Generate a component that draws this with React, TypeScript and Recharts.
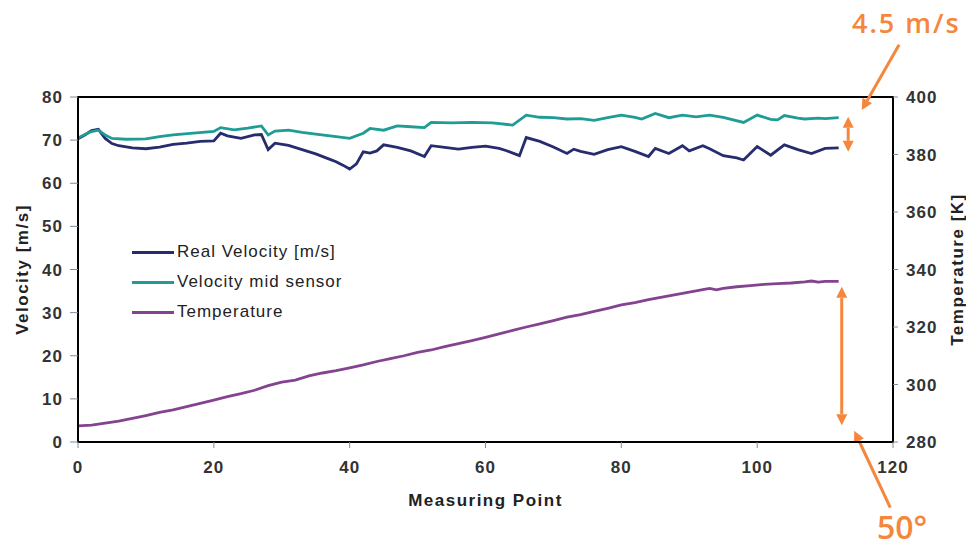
import React from 'react';
import { LineChart, Line, XAxis, YAxis, ReferenceArea, ReferenceLine, Legend } from 'recharts';

// ---------- data ----------
const realX = [0, 1, 2, 3, 4, 5, 6, 8, 10, 12, 14, 16, 18, 20, 21, 22, 24, 26, 27, 28, 29, 31, 33, 35, 37, 38, 39, 40, 41, 42, 43, 44, 45, 47, 49, 51, 52, 54, 56, 58, 60, 62, 63, 65, 66, 68, 70, 72, 73, 74, 76, 78, 80, 82, 84, 85, 87, 89, 90, 92, 93, 95, 97, 98, 100, 102, 104, 106, 108, 110, 112];
const realV = [70.3, 71.2, 72.2, 72.5, 70.4, 69.2, 68.7, 68.2, 68.0, 68.4, 69.0, 69.3, 69.7, 69.8, 71.6, 71.0, 70.4, 71.2, 71.3, 67.8, 69.3, 68.8, 67.8, 66.8, 65.6, 65.0, 64.2, 63.3, 64.5, 67.3, 67.0, 67.5, 68.9, 68.3, 67.5, 66.2, 68.7, 68.3, 67.9, 68.3, 68.6, 68.1, 67.6, 66.4, 70.6, 69.7, 68.4, 66.9, 67.9, 67.4, 66.7, 67.8, 68.5, 67.4, 66.2, 68.1, 66.9, 68.7, 67.5, 68.7, 68.0, 66.4, 65.9, 65.4, 68.5, 66.5, 68.9, 67.8, 66.9, 68.1, 68.2];

const midX = [0, 1, 2, 3, 4, 5, 7, 10, 12, 14, 17, 20, 21, 23, 25, 27, 28, 29, 31, 33, 35, 38, 40, 42, 43, 45, 47, 49, 51, 52, 55, 58, 61, 64, 66, 68, 70, 72, 74, 76, 78, 80, 82, 83, 85, 87, 89, 91, 93, 95, 98, 100, 102, 103, 104, 106, 107, 109, 110, 112];
const midV = [70.5, 71.3, 72.0, 72.3, 71.2, 70.4, 70.2, 70.3, 70.8, 71.2, 71.6, 72.0, 72.9, 72.4, 72.8, 73.3, 71.2, 72.1, 72.3, 71.8, 71.4, 70.8, 70.4, 71.6, 72.7, 72.3, 73.3, 73.1, 72.9, 74.1, 74.0, 74.1, 74.0, 73.5, 75.8, 75.3, 75.2, 74.9, 75.0, 74.6, 75.2, 75.8, 75.3, 74.9, 76.2, 75.2, 75.8, 75.4, 75.8, 75.3, 74.1, 75.8, 74.8, 74.7, 75.7, 75.1, 74.9, 75.1, 75.0, 75.2];

const tempX = [0, 2, 4, 6, 8, 10, 12, 14, 16, 18, 20, 22, 24, 26, 28, 30, 32, 34, 36, 38, 40, 42, 44, 46, 48, 50, 52, 54, 56, 58, 60, 62, 64, 66, 68, 70, 72, 74, 76, 78, 80, 82, 84, 86, 88, 90, 92, 93, 94, 95, 97, 99, 101, 103, 105, 107, 108, 109, 110, 112];
const tempK = [285.6, 285.9, 286.6, 287.3, 288.2, 289.2, 290.3, 291.2, 292.3, 293.4, 294.6, 295.8, 296.8, 298.0, 299.6, 300.8, 301.5, 303.0, 304.0, 304.8, 305.8, 306.8, 308.0, 309.0, 310.0, 311.2, 312.0, 313.2, 314.2, 315.3, 316.4, 317.6, 318.8, 320.0, 321.1, 322.2, 323.4, 324.3, 325.4, 326.5, 327.7, 328.5, 329.5, 330.4, 331.3, 332.1, 333.0, 333.4, 332.9, 333.4, 334.0, 334.4, 334.8, 335.1, 335.3, 335.7, 336.0, 335.6, 335.9, 335.9];

const xTicks = [0, 20, 40, 60, 80, 100, 120];
const velTicks = [0, 10, 20, 30, 40, 50, 60, 70, 80];
const tempTicks = [280, 300, 320, 340, 360, 380, 400];

const seriesNames = ['Real Velocity [m/s]', 'Velocity mid sensor', 'Temperature'];
const seriesColors = ['#262C6E', '#1E9C95', '#84438F'];

// annotation segments (in x / velocity units)
const gapArrow = [{ x: 113.4, y: 75.4 }, { x: 113.4, y: 67.3 }];
const tempArrow = [{ x: 112.45, y: 36.0 }, { x: 112.45, y: 3.9 }];
const topPointer = [{ x: 120.9, y: 92.1 }, { x: 115.4, y: 77.0 }];
const bottomPointer = [{ x: 119.6, y: -15.2 }, { x: 114.3, y: 2.6 }];

const realData = realX.map((x, i) => ({ x, v: realV[i] }));
const midData = midX.map((x, i) => ({ x, v: midV[i] }));
const tempData = tempX.map((x, i) => ({ x, t: tempK[i] }));

const ORANGE = '#F4873B';
const FONT = '"Liberation Sans", Arial, sans-serif';

function head(tx: number, ty: number, fx: number, fy: number) {
  const dx = tx - fx;
  const dy = ty - fy;
  const len = Math.sqrt(dx * dx + dy * dy) || 1;
  const ux = dx / len;
  const uy = dy / len;
  const L = 11;
  const W = 5.5;
  const bx = tx - ux * L;
  const by = ty - uy * L;
  const pts = `${tx},${ty} ${bx - uy * W},${by + ux * W} ${bx + uy * W},${by - ux * W}`;
  return { pts, bx, by };
}

const singleArrow = (p: any) => {
  const { x1, y1, x2, y2 } = p;
  const h = head(x2, y2, x1, y1);
  return (
    <g>
      <line x1={x1} y1={y1} x2={h.bx} y2={h.by} stroke={ORANGE} strokeWidth={3} />
      <polygon points={h.pts} fill={ORANGE} />
    </g>
  );
};

const doubleArrow = (p: any) => {
  const { x1, y1, x2, y2 } = p;
  const a = head(x2, y2, x1, y1);
  const b = head(x1, y1, x2, y2);
  return (
    <g>
      <line x1={b.bx} y1={b.by} x2={a.bx} y2={a.by} stroke={ORANGE} strokeWidth={3} />
      <polygon points={a.pts} fill={ORANGE} />
      <polygon points={b.pts} fill={ORANGE} />
    </g>
  );
};

const LegendBox = () => (
  <div style={{ fontFamily: FONT, fontSize: 17, letterSpacing: 1, color: '#222' }}>
    {seriesNames.map((n, i) => (
      <div key={n} style={{ display: 'flex', alignItems: 'center', height: 30 }}>
        <div style={{ width: 42, height: 3, background: seriesColors[i], marginRight: 3 }} />
        <span>{n}</span>
      </div>
    ))}
  </div>
);

const tickStyle = { fontFamily: FONT, fontSize: 17, fontWeight: 700, fill: '#333', letterSpacing: 1 };
const labelStyle = { fontFamily: FONT, fontSize: 17, fontWeight: 700, fill: '#222', letterSpacing: 1.5, textAnchor: 'middle' as const };

export default function App() {
  return (
    <div style={{ position: 'absolute', left: 0, top: 0, width: 966, height: 550, background: '#fff' }}>
      <LineChart width={966} height={550} margin={{ top: 97, right: 0, bottom: 38, left: 0 }}>
        <XAxis
          dataKey="x"
          type="number"
          domain={[0, 120]}
          ticks={xTicks}
          allowDataOverflow
          tick={tickStyle}
          tickSize={6}
          tickMargin={13}
          height={70}
          axisLine={{ stroke: '#000', strokeWidth: 2 }}
          tickLine={{ stroke: '#7d8c9c' }}
          label={{ value: 'Measuring Point', position: 'insideBottom', offset: 6, style: labelStyle }}
        />
        <YAxis
          yAxisId="left"
          domain={[0, 80]}
          ticks={velTicks}
          allowDataOverflow
          width={78}
          tick={tickStyle}
          tickSize={8}
          tickMargin={7}
          axisLine={{ stroke: '#000', strokeWidth: 2 }}
          tickLine={{ stroke: '#7d8c9c' }}
          label={{ value: 'Velocity [m/s]', angle: -90, position: 'insideLeft', offset: 22, style: labelStyle }}
        />
        <YAxis
          yAxisId="right"
          orientation="right"
          domain={[280, 400]}
          ticks={tempTicks}
          allowDataOverflow
          width={73}
          tick={{ ...tickStyle, textAnchor: 'start' }}
          tickSize={5}
          tickMargin={8}
          axisLine={{ stroke: '#000', strokeWidth: 2 }}
          tickLine={{ stroke: '#7d8c9c' }}
          label={{ value: 'Temperature [K]', angle: -90, position: 'insideRight', offset: 9, style: labelStyle }}
        />
        <ReferenceArea yAxisId="left" x1={0} x2={120} y1={0} y2={80} fill="none" stroke="#000" strokeWidth={2} />
        <Line
          data={realData}
          dataKey="v"
          yAxisId="left"
          name={seriesNames[0]}
          stroke={seriesColors[0]}
          strokeWidth={2.8}
          dot={false}
          type="linear"
          isAnimationActive={false}
        />
        <Line
          data={midData}
          dataKey="v"
          yAxisId="left"
          name={seriesNames[1]}
          stroke={seriesColors[1]}
          strokeWidth={2.8}
          dot={false}
          type="linear"
          isAnimationActive={false}
        />
        <Line
          data={tempData}
          dataKey="t"
          yAxisId="right"
          name={seriesNames[2]}
          stroke={seriesColors[2]}
          strokeWidth={2.8}
          dot={false}
          type="linear"
          isAnimationActive={false}
        />
        <ReferenceLine yAxisId="left" segment={gapArrow} ifOverflow="visible" shape={doubleArrow} />
        <ReferenceLine yAxisId="left" segment={tempArrow} ifOverflow="visible" shape={doubleArrow} />
        <ReferenceLine yAxisId="left" segment={topPointer} ifOverflow="visible" shape={singleArrow} />
        <ReferenceLine yAxisId="left" segment={bottomPointer} ifOverflow="visible" shape={singleArrow} />
        <Legend
          layout="horizontal"
          verticalAlign="middle"
          align="center"
          content={() => <LegendBox />}
          wrapperStyle={{ position: 'absolute', left: 132, top: 237, width: 260, height: 'auto' }}
        />
      </LineChart>
      <div style={{ position: 'absolute', left: 852, top: 5, fontFamily: '"Open Sans", sans-serif', fontWeight: 600, fontSize: 27, letterSpacing: 2, color: ORANGE, whiteSpace: 'nowrap', lineHeight: '36px' }}>
        4.5 m/s
      </div>
      <div style={{ position: 'absolute', left: 877, top: 506, fontFamily: '"Open Sans", sans-serif', fontWeight: 600, fontSize: 32, color: ORANGE, whiteSpace: 'nowrap', lineHeight: '42px' }}>
        50°
      </div>
    </div>
  );
}
